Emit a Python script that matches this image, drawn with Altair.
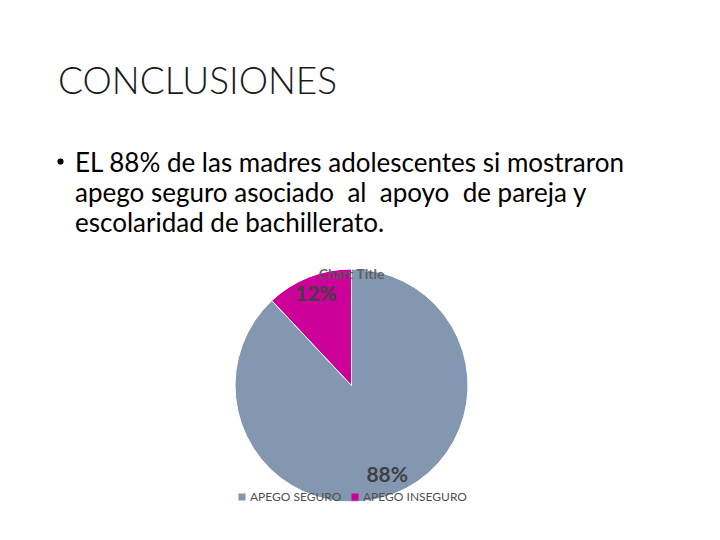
import altair as alt
import pandas as pd

# ---- data ----
categories = ["APEGO SEGURO", "APEGO INSEGURO"]
values = [88, 12]
labels = ["88%", "12%"]
colors = ["#8497B0", "#CC0099"]

NB = "\u00a0"
slide_title = "CONCLUSIONES"
bullet_lines = [
    "EL 88% de las madres adolescentes si mostraron",
    f"apego seguro asociado {NB}al {NB}apoyo {NB}de pareja y",
    "escolaridad de bachillerato.",
]
chart_title = "Chart Title"

df = pd.DataFrame({
    "categoria": categories,
    "valor": values,
    "etiqueta": labels,
    "orden": list(range(len(categories))),
})

FONT = "Lato"
CX, CY, R = 343.5, 377.5, 116.5

base = alt.Chart(df)

color_enc = alt.Color(
    "categoria:N",
    scale=alt.Scale(domain=categories, range=colors),
    legend=alt.Legend(
        title=None, orient="none", direction="horizontal",
        legendX=228, legendY=483, symbolType="square", symbolSize=50,
        symbolStrokeWidth=0, labelFont=FONT, labelFontSize=12,
        labelColor="#505050", columnPadding=7, labelOffset=2,
    ),
)

pie = base.mark_arc(stroke="white", strokeWidth=1).encode(
    theta=alt.Theta("valor:Q", stack=True),
    color=color_enc,
    order=alt.Order("orden:Q"),
    x=alt.value(CX), y=alt.value(CY),
    radius=alt.value(R),
)

pct = base.mark_text(font=FONT, fontSize=21, fontWeight="bold", color="#404040").encode(
    theta=alt.Theta("valor:Q", stack=True),
    order=alt.Order("orden:Q"),
    text="etiqueta:N",
    x=alt.value(CX), y=alt.value(CY),
    radius=alt.value(97),
)

def txt(text, x, y, size, weight="normal", color="black", align="left", opacity=1):
    return alt.Chart(pd.DataFrame({"t": [text]})).mark_text(
        font=FONT, fontSize=size, fontWeight=weight, color=color,
        align=align, baseline="alphabetic", opacity=opacity,
    ).encode(x=alt.value(x), y=alt.value(y), text="t:N")

bullet = alt.Chart(pd.DataFrame({"t": [0]})).mark_circle(
    color="black", opacity=1, size=38
).encode(x=alt.value(52.5), y=alt.value(153.5))

layers = [
    txt(slide_title, 50, 86, 37, weight=300, color="#1a1a1a"),
    bullet,
    txt(bullet_lines[0], 67, 163.5, 26),
    txt(bullet_lines[1], 67, 194, 26),
    txt(bullet_lines[2], 67, 224, 26),
    pie,
    txt(chart_title, CX, 271, 14, weight="bold", color="#595959", align="center", opacity=0.9),
    pct,
]

chart = alt.layer(*layers).properties(
    width=704, height=524, padding=0, autosize="none",
).configure_view(stroke=None)

chart.save("out.html", embed_options={"renderer": "svg", "actions": False})
